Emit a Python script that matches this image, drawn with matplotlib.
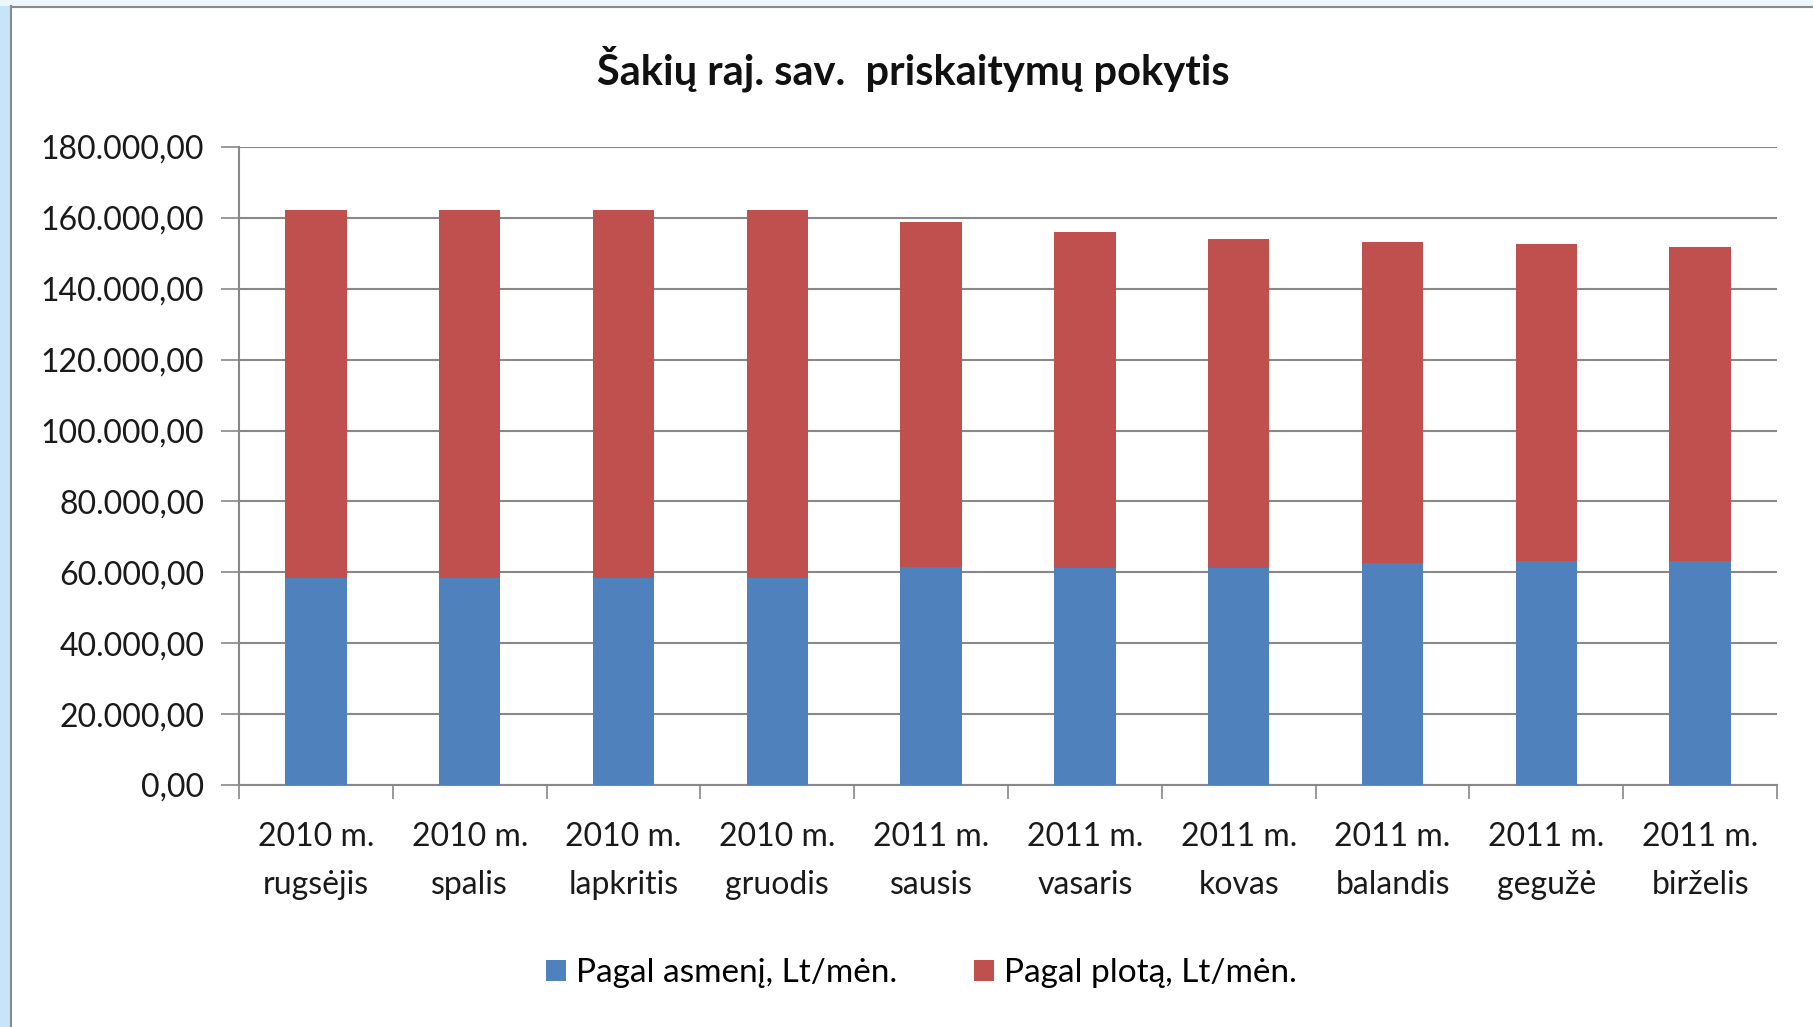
import numpy as np
import matplotlib.pyplot as plt
from matplotlib.ticker import FuncFormatter
from matplotlib.patches import Rectangle
from matplotlib.lines import Line2D

plt.rcParams['font.family'] = ['Lato', 'DejaVu Sans']

months = ['2010 m.\nrugsėjis', '2010 m.\nspalis', '2010 m.\nlapkritis', '2010 m.\ngruodis',
          '2011 m.\nsausis', '2011 m.\nvasaris', '2011 m.\nkovas', '2011 m.\nbalandis',
          '2011 m.\ngegužė', '2011 m.\nbirželis']
pagal_asmeni = [58500, 58500, 58500, 58500, 61400, 61200, 61200, 62600, 63300, 63300]
pagal_plota = [103700, 103700, 103700, 103700, 97400, 94900, 92900, 90700, 89300, 88600]

title = 'Šakių raj. sav.  priskaitymų pokytis'
legend_labels = ['Pagal asmenį, Lt/mėn.', 'Pagal plotą, Lt/mėn.']

blue = '#4F81BD'
red = '#C0504D'
grid_col = '#888888'

fig = plt.figure(figsize=(18.13, 10.27), dpi=100)
fig.patch.set_facecolor('white')

# light blue frame around the chart area, like the screenshot
fig.patches.append(Rectangle((0, 0), 9.5 / 1813, 1, transform=fig.transFigure,
                             facecolor='#C8E4F9', edgecolor='none', zorder=0))
fig.patches.append(Rectangle((0, 1 - 6 / 1027), 1, 6 / 1027, transform=fig.transFigure,
                             facecolor='#EEF6FD', edgecolor='none', zorder=0))
fig.lines.append(Line2D([10.5 / 1813, 10.5 / 1813], [0, 1 - 6 / 1027], transform=fig.transFigure,
                        color='#8A8A8A', lw=1.5))
fig.lines.append(Line2D([10.5 / 1813, 1], [1 - 6.5 / 1027, 1 - 6.5 / 1027], transform=fig.transFigure,
                        color='#8A8A8A', lw=1.5))

ax = fig.add_axes([239 / 1813, 1 - 785 / 1027, (1777 - 239) / 1813, (785 - 147) / 1027])

x = np.arange(len(months))
b1 = ax.bar(x, pagal_asmeni, width=0.4, color=blue, zorder=3)
b2 = ax.bar(x, pagal_plota, width=0.4, bottom=pagal_asmeni, color=red, zorder=3)

ax.set_xlim(-0.5, len(months) - 0.5)
ax.set_ylim(0, 180000)
ax.set_yticks(np.arange(0, 180001, 20000))
ax.yaxis.set_major_formatter(FuncFormatter(
    lambda v, p: f'{v:,.2f}'.replace(',', ' ').replace('.', ',').replace(' ', '.')))
ax.grid(axis='y', color=grid_col, lw=1.5, zorder=0)

ax.set_xticks(x)
ax.set_xticklabels(months, fontsize=23, color='#1a1a1a', linespacing=1.72)
ax.set_xticks(np.arange(-0.5, len(months), 1), minor=True)
ax.tick_params(axis='x', which='major', length=0, pad=27)
ax.tick_params(axis='x', which='minor', length=10, width=1.2, color=grid_col, direction='out')
ax.tick_params(axis='y', length=13, width=1.2, color=grid_col, labelsize=23,
               labelcolor='#1a1a1a', pad=12)

for s in ['top', 'right']:
    ax.spines[s].set_visible(False)
for s in ['left', 'bottom']:
    ax.spines[s].set_color(grid_col)
    ax.spines[s].set_linewidth(1.5)

fig.text(913 / 1813, 1 - 69 / 1027, title, ha='center', va='center',
         fontsize=30, fontweight='bold', color='#111111')

fig.legend([b1, b2], legend_labels, loc='center', bbox_to_anchor=(921 / 1813, 1 - 973 / 1027),
           ncol=2, frameon=False, fontsize=24, handlelength=0.6, handleheight=0.6,
           handletextpad=0.3, columnspacing=2.3)

plt.savefig('out.png', dpi=100)
